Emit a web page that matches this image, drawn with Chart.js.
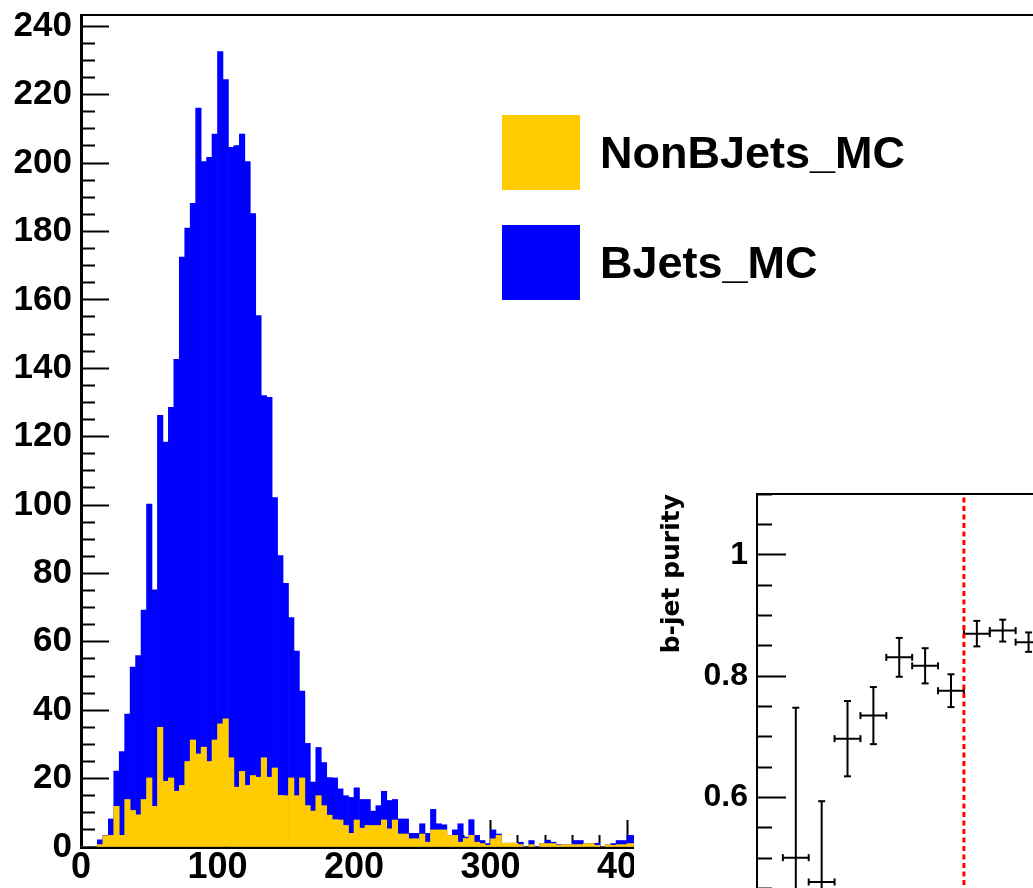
<!DOCTYPE html>
<html>
<head>
<meta charset="utf-8">
<script src="https://cdn.jsdelivr.net/npm/chart.js@4.4.1/dist/chart.umd.min.js"></script>
<style>
  html, body { margin: 0; padding: 0; background: #fff; }
  #page { position: relative; width: 1033px; height: 888px; overflow: hidden; }
  #mainChart { position: absolute; left: 0; top: 0; }
  #legend { position: absolute; left: 502px; top: 115px; font: bold 45px "Liberation Sans"; color: #000; }
  #legend .item { display: flex; align-items: center; height: 75px; margin-bottom: 35px; white-space: nowrap; }
  #legend .swatch { display: inline-block; width: 78px; height: 75px; margin-right: 20px; }
  #insetPad { position: absolute; left: 634px; top: 470px; width: 399px; height: 418px; background: #fff; overflow: hidden; }
  #insetChart { position: absolute; left: 0; top: 0; }
</style>
</head>
<body>
<div id="page">
  <canvas id="mainChart" width="1033" height="888"></canvas>
  <div id="legend"></div>
  <div id="insetPad"><canvas id="insetChart" width="698" height="455"></canvas></div>
</div>
<script>
// main histogram: 4-unit bins starting at 0
const BIN_WIDTH = 4;
const nonBJets = [
  0, 0, 0, 0.7, 3.3, 3.4, 11.9, 3.4, 13.9, 10.7,
  9.4, 13.9, 20.2, 11.9, 35, 19.2, 20.2, 16.3, 18, 25,
  31.3, 27.2, 29.2, 25, 31.3, 36, 37.5, 26.1, 17.5, 22.1,
  18, 20.9, 20.4, 26.1, 20.4, 23.1, 15.1, 15, 20.2, 15,
  20.2, 12.1, 10.5, 15, 12.1, 9.3, 8, 7.9, 6.3, 4,
  7.9, 5.5, 6.3, 6.3, 6.3, 7.9, 5.3, 7.9, 3.8, 3.8,
  2.4, 2.4, 3.8, 1.4, 5, 5, 5, 3.4, 3.4, 1.4,
  2.5, 3.4, 1.4, 1, 0.5, 2.4, 3.4, 1.1, 1.1, 1.1,
  0.7, 0, 0.7, 0, 1, 1, 1, 0.5, 0.7, 0.7,
  0.7, 0.7, 1, 1, 0.5, 0, 0.7, 0.5, 0.7, 0.7,
  1, 1
];
// top of the stack (BJets_MC drawn on top of NonBJets_MC)
const stackTop = [
  0, 0, 0, 2.1, 3.4, 8.2, 22.2, 27.9, 38.9, 52.6,
  56, 69.3, 100.3, 75.2, 126.2, 118.4, 128.6, 142.6, 172.5, 181,
  188.2, 216.1, 200.4, 201.7, 208.5, 232.6, 224.4, 204.6, 205.1, 208.5,
  200.4, 185.2, 155.4, 132, 131.5, 102.2, 85.2, 77.1, 67.1, 57.3,
  45.6, 30.3, 19, 29.1, 24.7, 20.3, 20.2, 17, 15, 14.5,
  17.3, 13.9, 13.9, 10.5, 12.1, 16.3, 13.6, 13.9, 8.2, 8.2,
  4, 4, 6.8, 4, 11, 6.8, 6.5, 3.4, 5, 6.8,
  2.9, 8, 3.4, 1.9, 1, 5, 3.8, 1.1, 1.1, 1.1,
  1.4, 0, 1.9, 0, 1, 2, 1.4, 0.7, 0.7, 0.7,
  1.9, 1.9, 1, 1, 1.1, 0, 0.7, 1, 1.9, 1.9,
  3.4, 3.4
];
const xTickLabels = [0, 100, 200, 300, 400, 500, 600];
const yTickLabels = [0, 20, 40, 60, 80, 100, 120, 140, 160, 180, 200, 220, 240];
const X_MAX = 697.4;
const Y_MAX = 243.3;

// inset: b-jet purity per bin
const purityBin = [1.5, 2.5, 3.5, 4.5, 5.5, 6.5, 7.5, 8.5, 9.5, 10.5];
const purity = [0.501, 0.461, 0.697, 0.735, 0.831, 0.817, 0.776, 0.870, 0.875, 0.856];
const purityErr = [0.247, 0.133, 0.062, 0.047, 0.032, 0.029, 0.027, 0.021, 0.018, 0.016];
const purityCut = 8;
const purityTickLabels = [0.6, 0.8, 1];
const INSET_X_MAX = 22;
const INSET_Y_MIN = 0.4;
const INSET_Y_MAX = 1.1;

const rootFont = size => ({ family: 'Liberation Sans', weight: 'bold', size: size });
const isMultiple = (v, step) => Math.abs(v / step - Math.round(v / step)) < 1e-6;

// fixed axis box, and no extra room for the label overhang
const fixWidth = w => s => { s.width = w; s.paddingTop = 0; s.paddingBottom = 0; };
const fixHeight = h => s => { s.height = h; s.paddingLeft = 0; s.paddingRight = 0; };

function renderMain() {
    const toPoints = arr => arr.map((v, i) => ({ x: BIN_WIDTH * (i + 0.5), y: v }));

    const chart = new Chart(document.getElementById('mainChart'), {
        type: 'bar',
        data: {
            datasets: [
                {
                    label: 'NonBJets_MC',
                    data: toPoints(nonBJets),
                    backgroundColor: '#ffcc00',
                    order: 0
                },
                {
                    label: 'BJets_MC',
                    data: toPoints(stackTop),
                    backgroundColor: '#0000ff',
                    order: 1
                }
            ]
        },
        options: {
            responsive: false,
            animation: false,
            layout: { padding: { top: 15, left: 0, right: 0, bottom: 0 } },
            datasets: {
                bar: { grouped: false, barPercentage: 1, categoryPercentage: 1, borderWidth: 0 }
            },
            scales: {
                x: {
                    type: 'linear',
                    min: 0,
                    max: X_MAX,
                    offset: false,
                    afterFit: fixHeight(41),
                    border: { display: true, color: '#000', width: 3 },
                    grid: {
                        offset: false,
                        drawOnChartArea: false,
                        tickLength: -27,
                        tickColor: '#000',
                        tickWidth: 2,
                        // minor ticks are shorter
                        tickBorderDash: ctx => isMultiple(ctx.tick.value, 100) ? [] : [14, 100]
                    },
                    ticks: {
                        stepSize: 20,
                        autoSkip: false,
                        maxRotation: 0,
                        includeBounds: false,
                        padding: 26,
                        color: '#000',
                        font: rootFont(36),
                        callback: v => xTickLabels.includes(v) ? String(v) : ''
                    }
                },
                xTop: {
                    type: 'linear',
                    position: 'top',
                    min: 0,
                    max: X_MAX,
                    afterFit: fixHeight(0),
                    border: { display: true, color: '#000', width: 2 },
                    grid: { display: false },
                    ticks: { display: false }
                },
                y: {
                    type: 'linear',
                    min: 0,
                    max: Y_MAX,
                    afterFit: fixWidth(81),
                    border: { display: true, color: '#000', width: 3 },
                    grid: {
                        drawOnChartArea: false,
                        tickLength: -28,
                        tickColor: '#000',
                        tickWidth: 2,
                        tickBorderDash: ctx => isMultiple(ctx.tick.value, 20) ? [] : [0, 14, 14, 100]
                    },
                    ticks: {
                        stepSize: 5,
                        autoSkip: false,
                        includeBounds: false,
                        padding: 37,
                        color: '#000',
                        font: rootFont(35),
                        callback: v => yTickLabels.includes(v) ? String(v) : ''
                    }
                }
            },
            plugins: {
                legend: { display: false },
                tooltip: { enabled: false }
            }
        }
    });

    const box = document.getElementById('legend');
    chart.data.datasets.forEach(ds => {
        const row = document.createElement('div');
        row.className = 'item';
        const sw = document.createElement('span');
        sw.className = 'swatch';
        sw.style.background = ds.backgroundColor;
        const txt = document.createElement('span');
        txt.textContent = ds.label;
        row.append(sw, txt);
        box.appendChild(row);
    });
}

function renderInset() {
    const vertical = [];
    const horizontal = [];
    purity.forEach((p, i) => {
        const c = purityBin[i];
        vertical.push({ x: c, y: p - purityErr[i] }, { x: c, y: p + purityErr[i] }, { x: c, y: null });
        horizontal.push({ x: c - 0.5, y: p }, { x: c + 0.5, y: p }, { x: c + 0.5, y: null });
    });

    const errStyle = {
        showLine: true,
        spanGaps: false,
        borderColor: '#000',
        borderWidth: 2,
        pointStyle: 'line',
        pointRadius: 3.5,
        pointBorderColor: '#000',
        pointBorderWidth: 2
    };

    new Chart(document.getElementById('insetChart'), {
        type: 'scatter',
        data: {
            datasets: [
                {
                    label: 'cut',
                    data: [{ x: purityCut, y: INSET_Y_MIN }, { x: purityCut, y: INSET_Y_MAX }],
                    showLine: true,
                    borderColor: '#ff0000',
                    borderWidth: 3,
                    borderDash: [5, 3.5],
                    pointRadius: 0
                },
                Object.assign({ label: 'purity', data: vertical }, errStyle),
                Object.assign({ label: 'bin', data: horizontal, pointRotation: 90 }, errStyle)
            ]
        },
        options: {
            responsive: false,
            animation: false,
            layout: { padding: { top: 24, left: 0, right: 0, bottom: 0 } },
            scales: {
                x: { type: 'linear', min: 0, max: INSET_X_MAX, display: false },
                xTop: {
                    type: 'linear',
                    position: 'top',
                    min: 0,
                    max: INSET_X_MAX,
                    afterFit: fixHeight(0),
                    border: { display: true, color: '#000', width: 2 },
                    grid: { display: false },
                    ticks: { display: false }
                },
                y: {
                    type: 'linear',
                    min: INSET_Y_MIN,
                    max: INSET_Y_MAX,
                    afterFit: fixWidth(123),
                    border: { display: true, color: '#000', width: 2 },
                    grid: {
                        drawOnChartArea: false,
                        tickLength: -29,
                        tickColor: '#000',
                        tickWidth: 2,
                        tickBorderDash: ctx => isMultiple(ctx.tick.value, 0.2) ? [] : [0, 14, 15, 100]
                    },
                    ticks: {
                        stepSize: 0.05,
                        autoSkip: false,
                        includeBounds: false,
                        padding: 38,
                        color: '#000',
                        font: rootFont(32),
                        callback: v => purityTickLabels.some(t => Math.abs(t - v) < 1e-6) ? String(v) : ''
                    },
                    title: {
                        display: true,
                        text: 'b-jet purity',
                        align: 'end',
                        color: '#000',
                        font: { family: 'DejaVu Sans', weight: 'bold', size: 25 },
                        padding: { top: 23, bottom: 0 }
                    }
                }
            },
            plugins: {
                legend: { display: false },
                tooltip: { enabled: false }
            }
        }
    });
}

renderMain();
renderInset();
</script>
</body>
</html>
